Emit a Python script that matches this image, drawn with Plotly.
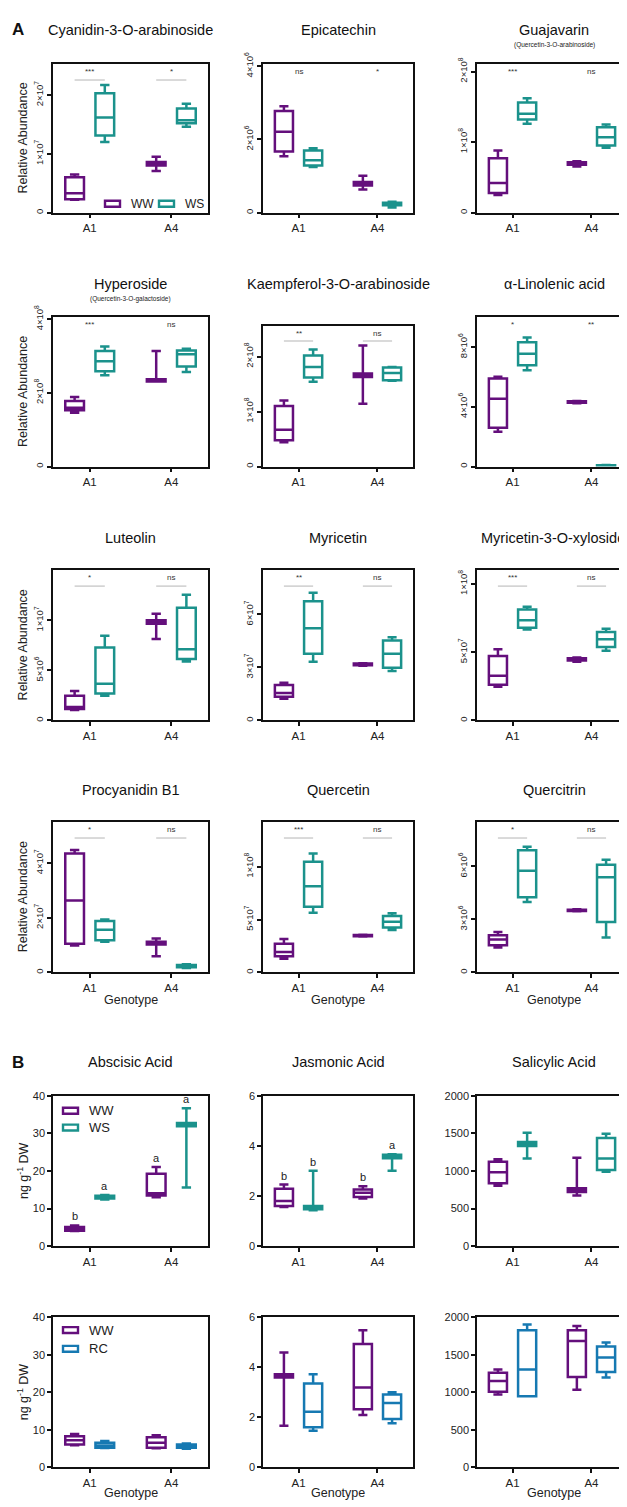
import plotly.graph_objects as go

W, H = 627, 1507
PAGE_MARGIN = 8            # default <body> margin of the written page
FW, FH = W - PAGE_MARGIN, H - PAGE_MARGIN
FONT = "Liberation Sans, Arial, sans-serif"
PURPLE = "#640f7c"
TEAL = "#1b928c"
BLUE = "#1679b2"

categories = ["A1", "A4"]

# ---- five-number summaries per genotype: [lower whisker, Q1, median, Q3, upper whisker] ----
# Part A (WW vs WS)
cyanidin_ww = [[0.22e7, 0.23e7, 0.33e7, 0.60e7, 0.65e7], [0.71e7, 0.80e7, 0.83e7, 0.86e7, 0.95e7]]
cyanidin_ws = [[1.20e7, 1.31e7, 1.62e7, 2.03e7, 2.17e7], [1.46e7, 1.52e7, 1.57e7, 1.77e7, 1.85e7]]
epicatechin_ww = [[1.54e6, 1.67e6, 2.21e6, 2.78e6, 2.91e6], [0.63e6, 0.74e6, 0.79e6, 0.84e6, 1.01e6]]
epicatechin_ws = [[1.25e6, 1.29e6, 1.43e6, 1.70e6, 1.76e6], [0.14e6, 0.20e6, 0.235e6, 0.27e6, 0.30e6]]
guajavarin_ww = [[0.25e8, 0.28e8, 0.42e8, 0.77e8, 0.88e8], [0.655e8, 0.68e8, 0.70e8, 0.715e8, 0.73e8]]
guajavarin_ws = [[1.26e8, 1.32e8, 1.40e8, 1.56e8, 1.62e8], [0.92e8, 0.95e8, 1.07e8, 1.21e8, 1.25e8]]
hyperoside_ww = [[1.46e8, 1.53e8, 1.60e8, 1.78e8, 1.89e8], [2.31e8, 2.31e8, 2.34e8, 2.37e8, 3.14e8]]
hyperoside_ws = [[2.48e8, 2.59e8, 2.86e8, 3.14e8, 3.26e8], [2.57e8, 2.72e8, 3.05e8, 3.15e8, 3.20e8]]
kaempferol_ww = [[0.44e8, 0.48e8, 0.67e8, 1.10e8, 1.20e8], [1.14e8, 1.63e8, 1.66e8, 1.69e8, 2.20e8]]
kaempferol_ws = [[1.54e8, 1.62e8, 1.81e8, 2.02e8, 2.13e8], [1.56e8, 1.57e8, 1.70e8, 1.80e8, 1.81e8]]
linolenic_ww = [[2.34e6, 2.60e6, 4.54e6, 5.90e6, 6.02e6], [4.25e6, 4.27e6, 4.32e6, 4.38e6, 4.40e6]]
linolenic_ws = [[6.46e6, 6.79e6, 7.56e6, 8.33e6, 8.66e6], [0.0, 0.01e6, 0.05e6, 0.09e6, 0.10e6]]
luteolin_ww = [[1.05e6, 1.15e6, 1.35e6, 2.46e6, 2.95e6], [8.13e6, 9.67e6, 9.84e6, 10.0e6, 10.66e6]]
luteolin_ws = [[2.46e6, 2.69e6, 3.67e6, 7.28e6, 8.46e6], [5.90e6, 6.13e6, 7.11e6, 11.25e6, 12.56e6]]
myricetin_ww = [[1.23e7, 1.34e7, 1.55e7, 2.01e7, 2.14e7], [3.10e7, 3.12e7, 3.17e7, 3.22e7, 3.24e7]]
myricetin_ws = [[3.32e7, 3.78e7, 5.22e7, 6.75e7, 7.23e7], [2.80e7, 2.98e7, 3.78e7, 4.53e7, 4.71e7]]
myrxyl_ww = [[2.48e7, 2.62e7, 3.28e7, 4.73e7, 5.22e7], [4.30e7, 4.39e7, 4.49e7, 4.56e7, 4.61e7]]
myrxyl_ws = [[6.67e7, 6.80e7, 7.35e7, 8.13e7, 8.33e7], [5.10e7, 5.39e7, 5.95e7, 6.48e7, 6.72e7]]
procyanidin_ww = [[0.99e7, 1.05e7, 2.63e7, 4.36e7, 4.48e7], [0.59e7, 1.02e7, 1.05e7, 1.12e7, 1.24e7]]
procyanidin_ws = [[1.12e7, 1.18e7, 1.56e7, 1.88e7, 1.94e7], [0.16e7, 0.19e7, 0.23e7, 0.27e7, 0.30e7]]
quercetin_ww = [[1.30e7, 1.52e7, 1.93e7, 2.70e7, 3.17e7], [3.40e7, 3.43e7, 3.48e7, 3.53e7, 3.56e7]]
quercetin_ws = [[5.65e7, 6.21e7, 8.14e7, 10.47e7, 11.24e7], [4.00e7, 4.25e7, 4.78e7, 5.34e7, 5.59e7]]
quercitrin_ww = [[1.41e6, 1.54e6, 1.86e6, 2.10e6, 2.29e6], [3.46e6, 3.48e6, 3.51e6, 3.55e6, 3.57e6]]
quercitrin_ws = [[3.98e6, 4.26e6, 5.76e6, 6.92e6, 7.11e6], [1.97e6, 2.85e6, 5.38e6, 6.09e6, 6.38e6]]

# Part B (ng g-1 DW)
aba_ww = [[4.0, 4.1, 4.6, 5.1, 5.5], [13.0, 13.5, 14.1, 19.3, 21.1]]
aba_ws = [[12.4, 12.7, 13.1, 13.4, 13.6], [15.6, 31.9, 32.4, 32.8, 36.7]]
ja_ww = [[1.56, 1.60, 1.80, 2.29, 2.46], [1.90, 1.96, 2.13, 2.26, 2.39]]
ja_ws = [[1.43, 1.47, 1.53, 1.60, 3.01], [3.01, 3.51, 3.58, 3.65, 3.67]]
sa_ww = [[803, 838, 982, 1123, 1158], [675, 719, 750, 772, 1175]]
sa_ws = [[1167, 1333, 1355, 1386, 1509], [991, 1013, 1167, 1439, 1496]]
aba_ww2 = [[5.9, 6.1, 7.25, 8.3, 8.9], [5.07, 5.24, 6.55, 8.03, 8.56]]
aba_rc = [[5.15, 5.24, 5.85, 6.55, 7.0], [4.98, 5.24, 5.68, 6.11, 6.38]]
ja_ww2 = [[1.66, 3.59, 3.65, 3.72, 4.59], [2.09, 2.32, 3.19, 4.93, 5.48]]
ja_rc = [[1.46, 1.60, 2.22, 3.35, 3.72], [1.76, 1.93, 2.57, 2.91, 3.00]]
sa_ww2 = [[970, 1009, 1152, 1261, 1304], [1035, 1204, 1683, 1826, 1883]]
sa_rc = [[948, 948, 1304, 1826, 1904], [1196, 1270, 1465, 1609, 1665]]

# ---- titles ----
titles = ["Cyanidin-3-O-arabinoside", "Epicatechin", "Guajavarin",
          "Hyperoside", "Kaempferol-3-O-arabinoside", "α-Linolenic acid",
          "Luteolin", "Myricetin", "Myricetin-3-O-xyloside",
          "Procyanidin B1", "Quercetin", "Quercitrin",
          "Abscisic Acid", "Jasmonic Acid", "Salicylic Acid",
          "", "", ""]
subtitles = {2: "(Quercetin-3-O-arabinoside)", 3: "(Quercetin-3-O-galactoside)"}

# ---- axis ranges and ticks ----
y_max = [2.52e7, 4.05e6, 2.1e8, 4.05e8, 2.55e8, 1.0e7, 1.5e7, 8.5e7, 1.1e8,
         5.5e7, 1.42e8, 8.5e6, 40, 6, 2000, 40, 6, 2000]
tick_vals = [[0, 1e7, 2e7], [0, 2e6, 4e6], [0, 1e8, 2e8],
             [0, 2e8, 4e8], [0, 1e8, 2e8], [0, 4e6, 8e6],
             [0, 5e6, 1e7], [0, 3e7, 6e7], [0, 5e7, 1e8],
             [0, 2e7, 4e7], [0, 5e7, 1e8], [0, 3e6, 6e6],
             [0, 10, 20, 30, 40], [0, 2, 4, 6], [0, 500, 1000, 1500, 2000],
             [0, 10, 20, 30, 40], [0, 2, 4, 6], [0, 500, 1000, 1500, 2000]]
tick_text = [["0", "1×10<sup>7</sup>", "2×10<sup>7</sup>"],
             ["0", "2×10<sup>6</sup>", "4×10<sup>6</sup>"],
             ["0", "1×10<sup>8</sup>", "2×10<sup>8</sup>"],
             ["0", "2×10<sup>8</sup>", "4×10<sup>8</sup>"],
             ["0", "1×10<sup>8</sup>", "2×10<sup>8</sup>"],
             ["0", "4×10<sup>6</sup>", "8×10<sup>6</sup>"],
             ["0", "5×10<sup>6</sup>", "1×10<sup>7</sup>"],
             ["0", "3×10<sup>7</sup>", "6×10<sup>7</sup>"],
             ["0", "5×10<sup>7</sup>", "1×10<sup>8</sup>"],
             ["0", "2×10<sup>7</sup>", "4×10<sup>7</sup>"],
             ["0", "5×10<sup>7</sup>", "1×10<sup>8</sup>"],
             ["0", "3×10<sup>6</sup>", "6×10<sup>6</sup>"],
             ["0", "10", "20", "30", "40"], ["0", "2", "4", "6"],
             ["0", "500", "1000", "1500", "2000"],
             ["0", "10", "20", "30", "40"], ["0", "2", "4", "6"],
             ["0", "500", "1000", "1500", "2000"]]

# ---- significance (Part A) ----
sig_text = [["***", "*"], ["ns", "*"], ["***", "ns"],
            ["***", "ns"], ["**", "ns"], ["*", "**"],
            ["*", "ns"], ["**", "ns"], ["***", "ns"],
            ["*", "ns"], ["***", "ns"], ["*", "ns"]]
sig_line = [True, False, False, False, True, False, True, True, True, True, True, True]

# ---- letters (Part B, first row) ----
letters_ww = {12: ["b", "a"], 13: ["b", "b"]}
letters_ws = {12: ["a", "a"], 13: ["b", "a"]}

ww_data = [cyanidin_ww, epicatechin_ww, guajavarin_ww, hyperoside_ww, kaempferol_ww, linolenic_ww,
           luteolin_ww, myricetin_ww, myrxyl_ww, procyanidin_ww, quercetin_ww, quercitrin_ww,
           aba_ww, ja_ww, sa_ww, aba_ww2, ja_ww2, sa_ww2]
tr_data = [cyanidin_ws, epicatechin_ws, guajavarin_ws, hyperoside_ws, kaempferol_ws, linolenic_ws,
           luteolin_ws, myricetin_ws, myrxyl_ws, procyanidin_ws, quercetin_ws, quercitrin_ws,
           aba_ws, ja_ws, sa_ws, aba_rc, ja_rc, sa_rc]

# ---- layout geometry (window pixels) ----
cols_px = [(53, 208), (263, 413), (477, 627)]
rows_px = [(53, 203), (309, 460), (565, 717), (820, 972), (1097, 1249), (1321, 1473)]
title_y = [18, 275, 532, 787, 1063, None]
top_override = {4: 318}

BOXGAP = 0.26
BOXGROUPGAP = 0.38
OFF = (1 - BOXGAP) / 4


def px_x(x):
    return (x - PAGE_MARGIN) / FW


def px_y(y):
    return 1 - (y - PAGE_MARGIN) / FH


fig = go.Figure()
annotations = []
shapes = []
layout = {}

for k in range(18):
    r, c = divmod(k, 3)
    sfx = "" if k == 0 else str(k + 1)
    xa, ya = "x" + sfx, "y" + sfx
    partB = k >= 12
    x0, x1 = cols_px[c]
    top, bot = rows_px[r]
    top = top_override.get(k, top)

    second_name, second_color = ("WS", TEAL) if k < 15 else ("RC", BLUE)

    for name, color, d in [("WW", PURPLE, ww_data[k]), (second_name, second_color, tr_data[k])]:
        fig.add_trace(go.Box(
            x=categories,
            lowerfence=[v[0] for v in d], q1=[v[1] for v in d], median=[v[2] for v in d],
            q3=[v[3] for v in d], upperfence=[v[4] for v in d],
            name=name, offsetgroup=name,
            line=dict(color=color, width=2.5), fillcolor="white",
            marker=dict(color=color), whiskerwidth=0.5, boxpoints=False,
            xaxis=xa, yaxis=ya, showlegend=False,
        ))

    layout["xaxis" + sfx] = dict(
        domain=[px_x(x0), px_x(x1)], anchor=ya, type="category",
        range=[-0.45, 1.45], showline=True, linecolor="#111", linewidth=1.5,
        mirror=True, ticks="outside", ticklen=4, tickwidth=1.5, tickcolor="#111",
        tickfont=dict(size=11.5, color="#222", family=FONT), showgrid=False, zeroline=False,
    )
    layout["yaxis" + sfx] = dict(
        domain=[px_y(bot), px_y(top)], anchor=xa, range=[0, y_max[k]],
        tickmode="array", tickvals=tick_vals[k], ticktext=tick_text[k],
        tickangle=0 if partB else -90,
        showline=True, linecolor="#111", linewidth=1.5, mirror=(c != 2),
        ticks="outside", ticklen=4, tickwidth=1.5, tickcolor="#111",
        tickfont=dict(size=11 if partB else 9.5, color="#222", family=FONT),
        showgrid=False, zeroline=False,
    )

    cx = (x0 + x1) / 2 if c < 2 else x0 + 77
    if titles[k]:
        if k == 8:
            annotations.append(dict(text=titles[k], x=1.0, y=px_y(title_y[r]), xref="paper", yref="paper",
                                    showarrow=False, font=dict(size=14.5, color="#111", family=FONT),
                                    xanchor="right", yanchor="middle"))
        else:
            annotations.append(dict(text=titles[k], x=px_x(cx), y=px_y(title_y[r]), xref="paper", yref="paper",
                                    showarrow=False, font=dict(size=14.5, color="#111", family=FONT),
                                    xanchor="center", yanchor="middle"))
    if k in subtitles:
        annotations.append(dict(text=subtitles[k], x=px_x(cx), y=px_y(title_y[r] + 15), xref="paper",
                                yref="paper", showarrow=False, font=dict(size=6.5, color="#222", family=FONT),
                                xanchor="center", yanchor="middle"))

    if not partB:
        for i in range(2):
            annotations.append(dict(text=sig_text[k][i], x=i, y=0.95, xref=xa, yref=ya + " domain",
                                    showarrow=False, font=dict(size=8, color="#333", family=FONT),
                                    xanchor="center", yanchor="middle"))
            if sig_line[k]:
                shapes.append(dict(type="line", xref=xa, yref=ya + " domain", x0=i - OFF, x1=i + OFF,
                                   y0=0.895, y1=0.895, line=dict(color="#b5b5b5", width=1)))
    if k in letters_ww:
        for i in range(2):
            for lab, d, sgn in [(letters_ww[k][i], ww_data[k], -1), (letters_ws[k][i], tr_data[k], 1)]:
                annotations.append(dict(text=lab, x=i + sgn * OFF, y=d[i][4], xref=xa, yref=ya,
                                        showarrow=False, yanchor="bottom", xanchor="center", yshift=1,
                                        font=dict(size=11, color="#222", family=FONT)))
    if r in (3, 5):
        annotations.append(dict(text="Genotype", x=px_x(cx), y=px_y(1000 if r == 3 else 1499),
                                xref="paper", yref="paper", showarrow=False,
                                font=dict(size=12.5, color="#222", family=FONT),
                                xanchor="center", yanchor="middle"))

# y-axis titles
for r in range(6):
    top, bot = rows_px[r]
    txt = "Relative Abundance" if r < 4 else "ng g<sup>-1</sup> DW"
    annotations.append(dict(text=txt, x=px_x(23), y=px_y((top + bot) / 2), xref="paper", yref="paper",
                            textangle=-90, showarrow=False, font=dict(size=12.5, color="#222", family=FONT),
                            xanchor="center", yanchor="middle"))

# panel letters
for lab, yy in [("A", 18), ("B", 1063)]:
    annotations.append(dict(text="<b>" + lab + "</b>", x=px_x(18), y=px_y(yy), xref="paper", yref="paper",
                            showarrow=False, font=dict(size=17, color="#111", family=FONT),
                            xanchor="center", yanchor="middle"))

# legend keys (drawn as small boxes + labels)
legend_keys = [  # (label, colour, key left x, centre y, text size)
    ("WW", PURPLE, 105, 194, 12), ("WS", TEAL, 159, 194, 12),
    ("WW", PURPLE, 63, 1112, 13), ("WS", TEAL, 63, 1129, 13),
    ("WW", PURPLE, 63, 1334, 13), ("RC", BLUE, 63, 1353, 13),
]
for lab, col, lx, ly, fs in legend_keys:
    shapes.append(dict(type="rect", xref="paper", yref="paper", x0=px_x(lx), x1=px_x(lx + 15),
                       y0=px_y(ly + 3), y1=px_y(ly - 3), line=dict(color=col, width=2.4),
                       fillcolor="white"))
    annotations.append(dict(text=lab, x=px_x(lx + 24), y=px_y(ly), xref="paper", yref="paper",
                            showarrow=False, xanchor="left", yanchor="middle",
                            font=dict(size=fs, color="#222", family=FONT)))

fig.update_layout(
    width=FW, height=FH, margin=dict(l=0, r=0, t=0, b=0),
    paper_bgcolor="white", plot_bgcolor="white",
    font=dict(family=FONT, color="#222"),
    boxmode="group", boxgap=BOXGAP, boxgroupgap=BOXGROUPGAP,
    annotations=annotations, shapes=shapes, showlegend=False,
    **layout,
)

fig.write_html("out.html")
